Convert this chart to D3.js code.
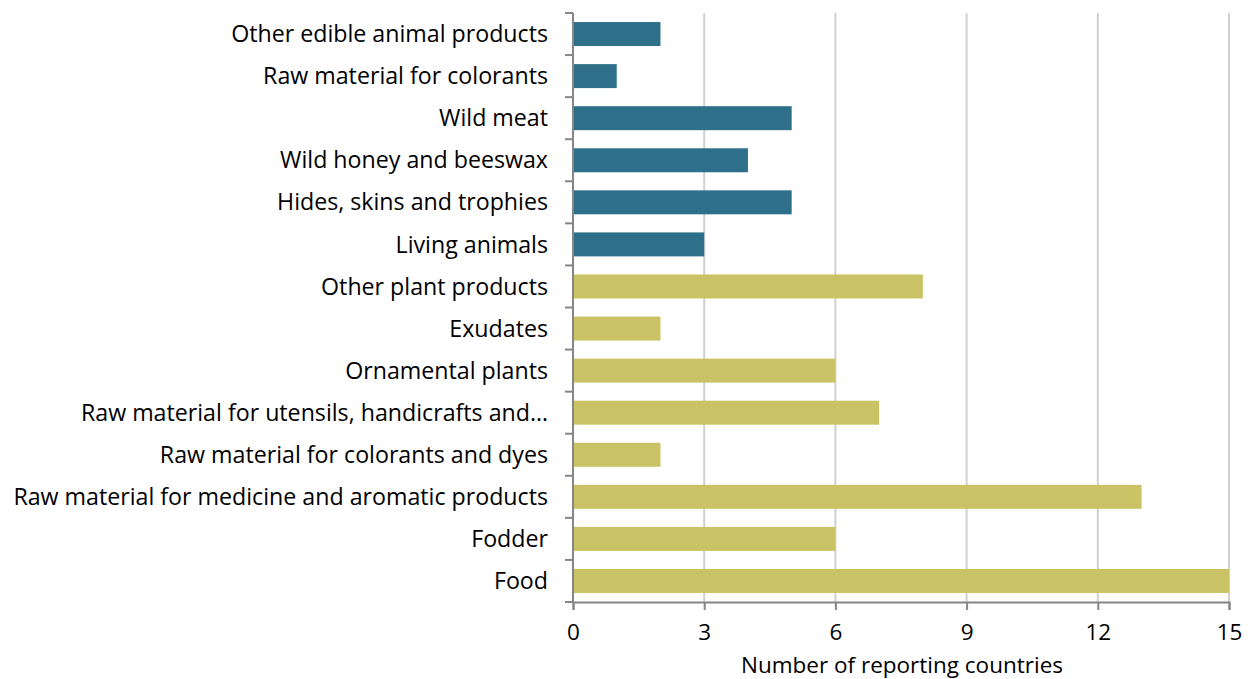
<!DOCTYPE html>
<html><head><meta charset="utf-8">
<script src="https://cdn.jsdelivr.net/npm/d3@7"></script>
<style>body{margin:0;background:#fff;} text{font-family:"Open Sans",sans-serif;}</style>
</head><body>
<svg id="c" width="1257" height="679"></svg>
<script>
const categories = ["Other edible animal products","Raw material for colorants","Wild meat","Wild honey and beeswax","Hides, skins and trophies","Living animals","Other plant products","Exudates","Ornamental plants","Raw material for utensils, handicrafts and…","Raw material for colorants and dyes","Raw material for medicine and aromatic products","Fodder","Food"];
const values = [2,1,5,4,5,3,8,2,6,7,2,13,6,15];
const groups = ["animal","animal","animal","animal","animal","animal","plant","plant","plant","plant","plant","plant","plant","plant"];
const xTicks = [0,3,6,9,12,15];
const colors = {animal:"#2E7089", plant:"#C9C366"};

const svg = d3.select("#c");
const m = {l:573, r:1229, t:13, b:602};
const x = d3.scaleLinear().domain([0,15]).range([m.l, m.r]);
const y = d3.scaleBand().domain(categories).range([m.t, m.b]).paddingInner(0.43).paddingOuter(0.215);

// gridlines
svg.append("g").selectAll("line").data(xTicks.slice(1)).join("line")
  .attr("x1",d=>x(d)).attr("x2",d=>x(d)).attr("y1",m.t).attr("y2",m.b)
  .attr("stroke","#d0d0d0").attr("stroke-width",2);

// bars
svg.append("g").selectAll("rect").data(categories).join("rect")
  .attr("x",x(0)).attr("y",d=>y(d)).attr("height",y.bandwidth())
  .attr("width",(d,i)=>x(values[i])-x(0))
  .attr("fill",(d,i)=>colors[groups[i]]);

// y axis
const step = (m.b-m.t)/categories.length;
const yb = d3.range(categories.length+1).map(i=>m.t+i*step);
const ya = svg.append("g");
ya.append("line").attr("x1",m.l).attr("x2",m.l).attr("y1",m.t).attr("y2",m.b).attr("stroke","#868686").attr("stroke-width",2);
ya.selectAll("line.t").data(yb).join("line").attr("class","t")
  .attr("x1",m.l-8).attr("x2",m.l).attr("y1",d=>d).attr("y2",d=>d).attr("stroke","#868686").attr("stroke-width",2);
ya.selectAll("text").data(categories).join("text")
  .attr("x",548).attr("y",d=>y(d)+y.bandwidth()/2).attr("dy","0.35em")
  .attr("text-anchor","end").attr("font-size",23.2).attr("fill","#000").text(d=>d);

// x axis
const xa = svg.append("g").attr("transform",`translate(0,${m.b})`)
  .call(d3.axisBottom(x).tickValues(xTicks).tickSize(8).tickPadding(14));
xa.select(".domain").attr("stroke","#868686").attr("stroke-width",2);
xa.selectAll(".tick line").attr("stroke","#868686").attr("stroke-width",2);
xa.selectAll(".tick text").attr("font-size",22.5).attr("fill","#000").style("font-family","'Open Sans',sans-serif");

svg.append("text").attr("x",902).attr("y",672.5).attr("text-anchor","middle")
  .attr("font-size",22.5).attr("fill","#000").text("Number of reporting countries");
</script>
</body></html>
